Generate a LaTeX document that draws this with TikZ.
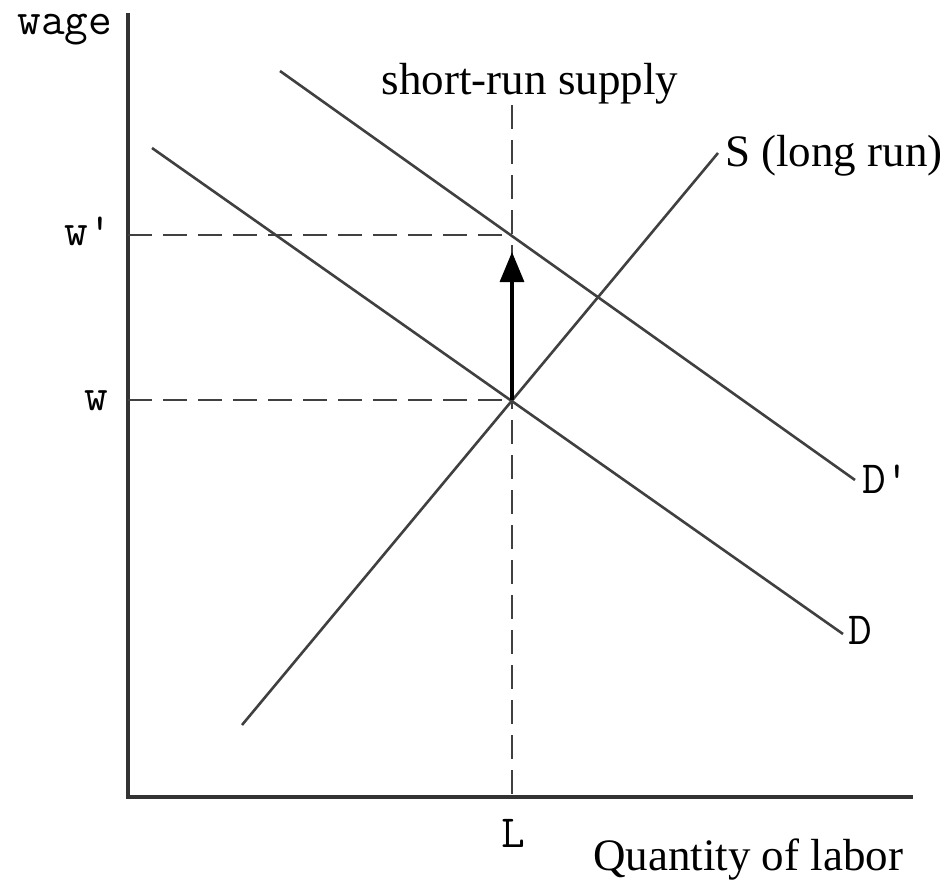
\documentclass[tikz,border=0pt]{standalone}
\usepackage{fontspec}
\setmainfont{Liberation Serif}
\usepackage{xcolor}
\usepackage{tikz}
\usetikzlibrary{positioning, arrows.meta}
\definecolor{curvegray}{HTML}{404040}
\definecolor{axisgray}{HTML}{333333}

\tikzset{
  curve/.style={draw=curvegray, line width=2.6pt},
  guide/.style={draw=curvegray, line width=2.4pt, dash pattern=on 24pt off 11pt},
  serlabel/.style={font=\fontsize{45}{50}\selectfont, inner sep=0pt},
  ttlabel/.style={font=\ttfamily\fontsize{46}{50}\selectfont, inner sep=0pt},
}

\begin{document}
\begin{tikzpicture}[x=1pt, y=-1pt]
    \useasboundingbox (0,0) rectangle (943,888);
    % axes
    \coordinate (top) at (128,13);
    \coordinate (origin) at (128,797);
    \coordinate (right) at (913,797);
    \draw[draw=axisgray, line width=3.2pt] (top) -- (origin) -- (right);

    % supply and demand lines
    \coordinate (S0) at (242,725);  \coordinate (S1) at (718,153);
    \coordinate (D0) at (152,148);  \coordinate (D1) at (843,634);
    \coordinate (Dp0) at (280,71);  \coordinate (Dp1) at (855,480);
    \draw[curve] (S0) -- (S1);
    \draw[curve] (D0) -- (D1);
    \draw[curve] (Dp0) -- (Dp1);

    % equilibria and guides
    \coordinate (E) at (512,400);
    \coordinate (Ep) at (512,235);
    \coordinate (wax) at (128,400);
    \coordinate (wpax) at (128,235);
    \coordinate (srtop) at (512,105);
    \coordinate (Lax) at (512,797);
    \draw[guide] (srtop) -- (Lax);
    \draw[guide] (wpax) -- (Ep);
    \draw[guide] (wax) -- (E);
    \coordinate (tip) at (512,252);
    \draw[-{Triangle[width=24pt,length=30pt]}, line width=3.2pt] (E) -- (tip);

    % labels
    \node[ttlabel, anchor=base] (wage) at (65,35) {wage};
    \node[ttlabel, anchor=base east] (wp) at (112,245) {w'};
    \node[ttlabel, anchor=base east] (w) at (108,410) {w};
    \node[ttlabel, anchor=base west] (Dplab) at (862,493) {D'};
    \node[ttlabel, anchor=base west] (Dlab) at (848,644) {D};
    \node[ttlabel, anchor=base] (L) at (513,847) {L};
    \node[serlabel, anchor=base] (sr) at (530,95) {short-run supply};
    \node[serlabel, anchor=base west] (Slab) at (725,167) {S (long run)};
    \node[serlabel, anchor=base west] (qty) at (593,870) {Quantity of labor};
\end{tikzpicture}
\end{document}
